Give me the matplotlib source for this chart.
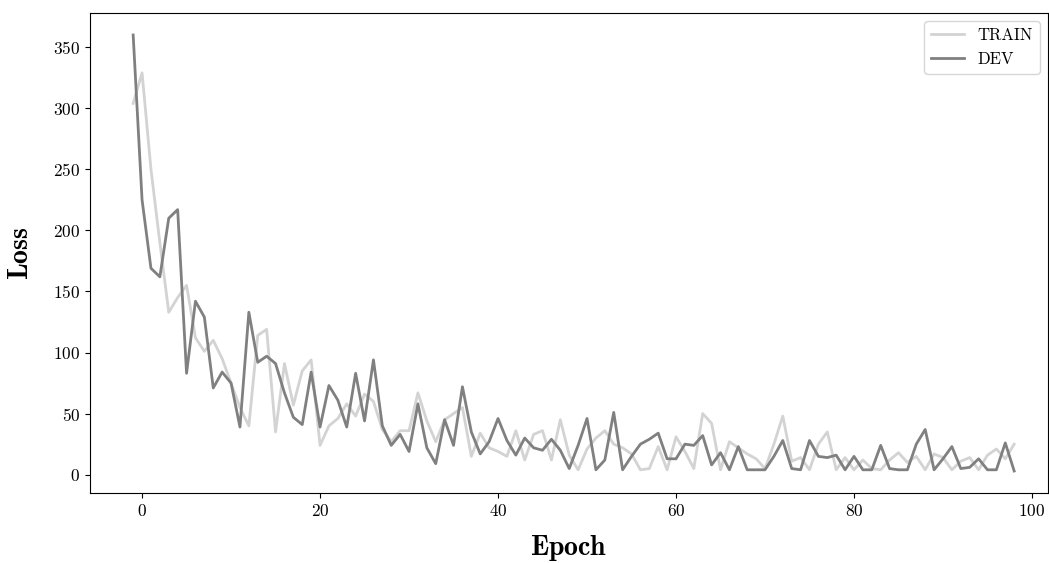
import matplotlib
matplotlib.use('Agg')
import matplotlib.pyplot as plt
import numpy as np

epochs = np.arange(-1, 99)

train_loss = [304, 329, 250, 190, 133, 145, 155, 112, 101, 110,
              95, 75, 55, 40, 114, 119, 35, 91, 57, 85,
              94, 24, 40, 46, 58, 48, 66, 60, 37, 27,
              36, 36, 67, 44, 27, 45, 50, 55, 15, 34,
              22, 19, 15, 36, 12, 33, 36, 12, 45, 16,
              4, 21, 30, 36, 25, 22, 17, 4, 5, 23,
              4, 31, 19, 5, 50, 42, 4, 27, 22, 17,
              13, 5, 25, 48, 11, 14, 4, 25, 35, 4,
              14, 4, 12, 5, 4, 12, 18, 10, 15, 4,
              17, 14, 4, 11, 14, 4, 16, 21, 13, 25]

dev_loss = [360, 225, 169, 162, 210, 217, 83, 142, 129, 71,
            84, 75, 39, 133, 92, 97, 91, 67, 47, 41,
            84, 39, 73, 61, 39, 83, 44, 94, 40, 24,
            33, 19, 58, 22, 9, 45, 24, 72, 35, 17,
            27, 46, 28, 16, 30, 22, 20, 29, 20, 5,
            24, 46, 4, 12, 51, 4, 15, 25, 29, 34,
            13, 13, 25, 24, 32, 8, 18, 4, 23, 4,
            4, 4, 15, 28, 5, 4, 28, 15, 14, 16,
            4, 15, 4, 4, 24, 5, 4, 4, 25, 37,
            4, 13, 23, 5, 6, 13, 4, 4, 26, 3]

plt.rcParams['font.family'] = 'serif'
plt.rcParams['font.serif'] = ['cmr10']
plt.rcParams['mathtext.fontset'] = 'cm'
plt.rcParams['axes.formatter.use_mathtext'] = True

fig = plt.figure(figsize=(10.49, 5.63), dpi=100)
ax = fig.add_axes([90 / 1049, 70 / 563, 958 / 1049, 480 / 563])

ax.plot(epochs, train_loss, color='#d3d3d3', lw=2, label='TRAIN')
ax.plot(epochs, dev_loss, color='#808080', lw=2, label='DEV')

ax.set_xlim(-5.85, 101.8)
ax.set_ylim(-15, 378)
ax.set_yticks([0, 50, 100, 150, 200, 250, 300, 350])
ax.set_xticks([0, 20, 40, 60, 80, 100])
ax.tick_params(labelsize=12.5)

ax.set_xlabel(r'$\mathbf{Epoch}$', fontsize=20, labelpad=10)
ax.set_ylabel(r'$\mathbf{Loss}$', fontsize=20, labelpad=14)

ax.legend(loc='upper right', fontsize=12)

plt.savefig('out.png', dpi=100)
